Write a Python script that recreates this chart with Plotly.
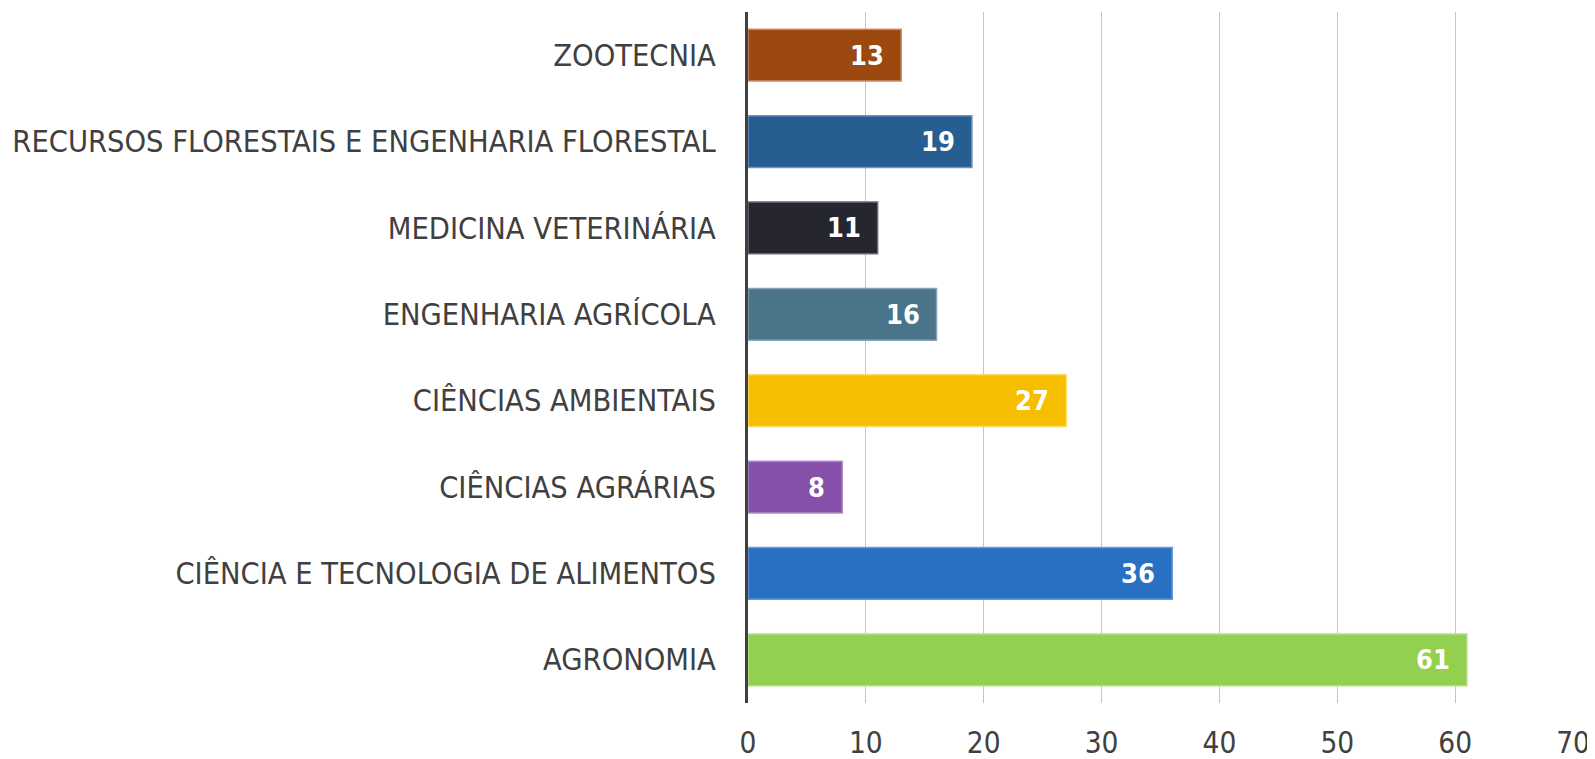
import plotly.graph_objects as go

categories = [
    "AGRONOMIA",
    "CIÊNCIA E TECNOLOGIA DE ALIMENTOS",
    "CIÊNCIAS AGRÁRIAS",
    "CIÊNCIAS AMBIENTAIS",
    "ENGENHARIA AGRÍCOLA",
    "MEDICINA VETERINÁRIA",
    "RECURSOS FLORESTAIS E ENGENHARIA FLORESTAL",
    "ZOOTECNIA",
]
values = [61, 36, 8, 27, 16, 11, 19, 13]
colors = ["#92D050", "#2870C4", "#8650AA", "#F5BF00", "#4A7489", "#262631", "#265E91", "#9C480E"]
outline = ["#B5E08A", "#6A9BD8", "#B08FC8", "#F9D76A", "#8AA6B5", "#6A6A72", "#6E95BA", "#C58E68"]
tick_vals = [0, 10, 20, 30, 40, 50, 60, 70]

FONT = "DejaVu Sans Condensed"

fig = go.Figure()
fig.add_trace(go.Bar(
    x=values,
    y=categories,
    orientation="h",
    marker=dict(color=colors, line=dict(color=outline, width=1.5)),
    width=0.6,
    hoverinfo="x+y",
))

for cat, v in zip(categories, values):
    fig.add_annotation(
        x=v, y=cat, text=str(v), showarrow=False, xanchor="right", xshift=-15,
        font=dict(family=FONT, size=27, color="white", weight="bold"),
    )

# page body has an 8px default margin; size the figure to fill the rest of the window
fig.update_layout(
    width=1587, height=751,
    margin=dict(l=740, r=22, t=4, b=56),
    plot_bgcolor="white", paper_bgcolor="white",
    showlegend=False,
    font=dict(family=FONT, size=30.5, color="#404040"),
    xaxis=dict(
        range=[0, 70], tickvals=tick_vals, showgrid=True, gridcolor="#C4C4C4", gridwidth=1,
        zeroline=False, showline=False, ticks="", tickfont=dict(size=29.5, color="#404040"),
        ticklabelstandoff=19, automargin=False,
    ),
    yaxis=dict(
        categoryorder="array", categoryarray=categories, showline=True, linecolor="#404040",
        linewidth=3, ticks="", ticklabelstandoff=23, tickfont=dict(size=30.5, color="#404040"),
        showgrid=False, automargin=False,
    ),
    bargap=0.4,
)
fig.write_html("out.html")
